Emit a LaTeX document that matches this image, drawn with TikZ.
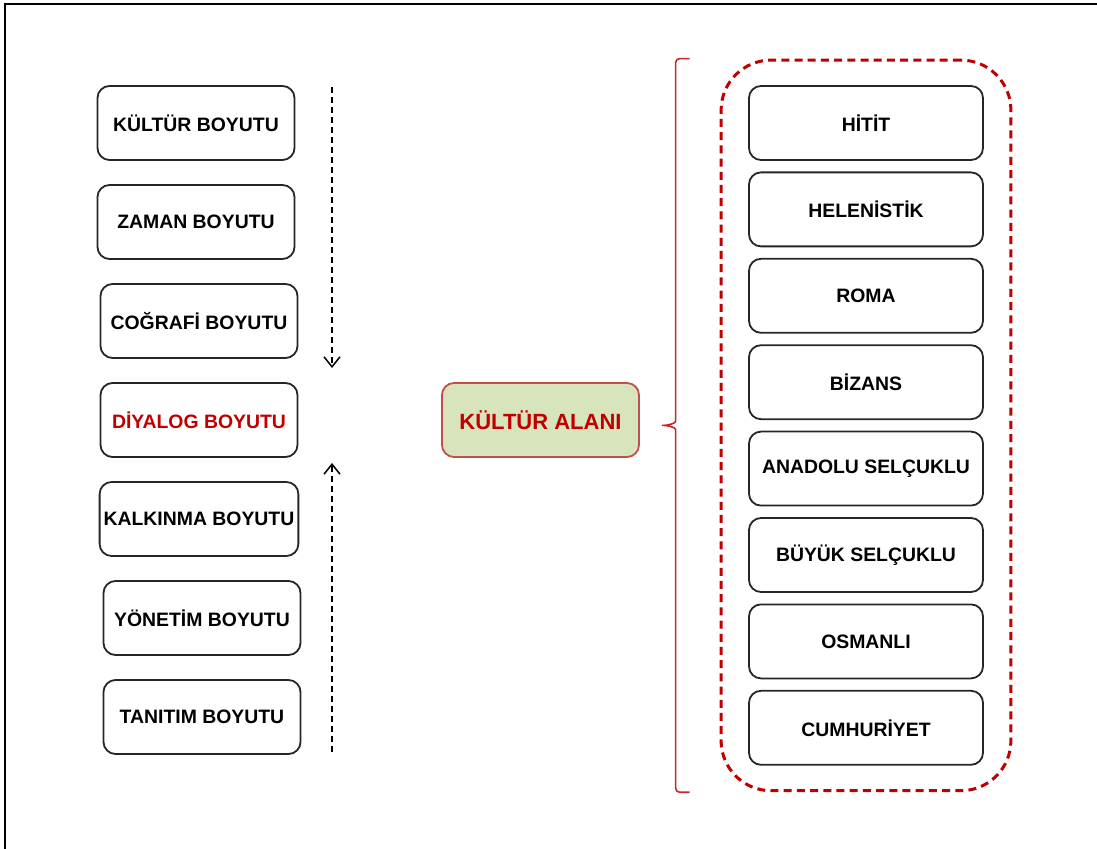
\documentclass[tikz,border=0pt]{standalone}
\usepackage{fontspec}
\setmainfont{Liberation Sans}
\usepackage{xcolor}
\usepackage{tikz}
\usetikzlibrary{arrows.meta,calc,fit,positioning}

\definecolor{koyukirmizi}{HTML}{C00000}
\definecolor{acikyesil}{HTML}{D8E4BC}
\definecolor{kenarkirmizi}{HTML}{C0504D}

\begin{document}
\begin{tikzpicture}[
      x=0.5pt, y=-0.5pt,
      node distance=11.6pt and 20pt,
      box/.style={draw=black!85, line width=0.9pt, rounded corners=6pt,
        minimum height=37pt, align=center, inner sep=2pt,
        font=\bfseries\fontsize{9.7}{11}\selectfont},
      leftbox/.style={box, minimum width=98.5pt},
      rightbox/.style={box, minimum width=117pt},
      alanbox/.style={box, draw=kenarkirmizi, fill=acikyesil, minimum width=98.5pt,
        text=koyukirmizi, font=\bfseries\fontsize{11}{13}\selectfont},
      flow/.style={dash pattern=on 3pt off 2pt, line width=0.75pt,
        -{Straight Barb[length=5pt,width=8pt]}},
      group/.style={draw=koyukirmizi, line width=1.5pt, rounded corners=25pt,
        dash pattern=on 4pt off 2.6pt},
      bracket/.style={draw=koyukirmizi!85, line width=0.8pt, rounded corners=2pt}
    ]
    \useasboundingbox (0,0) rectangle (1097,849);
    % frame
    \draw[line width=0.8pt] (5,849) -- (5,4) -- (1097,4);

    % left column
    \node[leftbox] (kultur) at (196,123) {KÜLTÜR BOYUTU};
    \node[leftbox, below=of kultur] (zaman) {ZAMAN BOYUTU};
    \node[leftbox, below=of zaman, xshift=1.5pt] (cografi) {COĞRAFİ BOYUTU};
    \node[leftbox, below=of cografi] (diyalog)
      {\textcolor{koyukirmizi}{DİYALOG BOYUTU}};
    \node[leftbox, below=of diyalog] (kalkinma) {KALKINMA BOYUTU};
    \node[leftbox, below=of kalkinma, xshift=1.5pt] (yonetim) {YÖNETİM BOYUTU};
    \node[leftbox, below=of yonetim] (tanitim) {TANITIM BOYUTU};

    \coordinate (downtop) at (332,87);
    \coordinate (downend) at (332,368);
    \coordinate (upbottom) at (332,752);
    \coordinate (upend) at (332,463);
    \draw[flow] (downtop) -- (downend);
    \draw[flow] (upbottom) -- (upend);

    % center
    \node[alanbox] (alan) at (540.5,420) {KÜLTÜR ALANI};

    % right column
    \node[rightbox] (hitit) at (866,123) {HİTİT};
    \node[rightbox, below=5.3pt of hitit] (helenistik) {HELENİSTİK};
    \node[rightbox, below=5.3pt of helenistik] (roma) {ROMA};
    \node[rightbox, below=5.3pt of roma] (bizans) {BİZANS};
    \node[rightbox, below=5.3pt of bizans] (anadolu) {ANADOLU SELÇUKLU};
    \node[rightbox, below=5.3pt of anadolu] (buyuk) {BÜYÜK SELÇUKLU};
    \node[rightbox, below=5.3pt of buyuk] (osmanli) {OSMANLI};
    \node[rightbox, below=5.3pt of osmanli] (cumhuriyet) {CUMHURİYET};

    \node[group, fit=(hitit)(cumhuriyet), inner xsep=13.5pt, inner ysep=12.5pt] (donemler) {};

    % brace
    \draw[bracket] ([xshift=-15pt]donemler.north west) -- ++(-14,0)
      -- ($(donemler.west)+(-44,-8)$)
      .. controls +(0,6) and +(8,0) .. ($(donemler.west)+(-60,0)$)
      .. controls +(8,0) and +(0,-6) .. ($(donemler.west)+(-44,8)$)
      -- ([xshift=-22pt]donemler.south west) -- ++(14,0);
  \end{tikzpicture}
\end{document}
